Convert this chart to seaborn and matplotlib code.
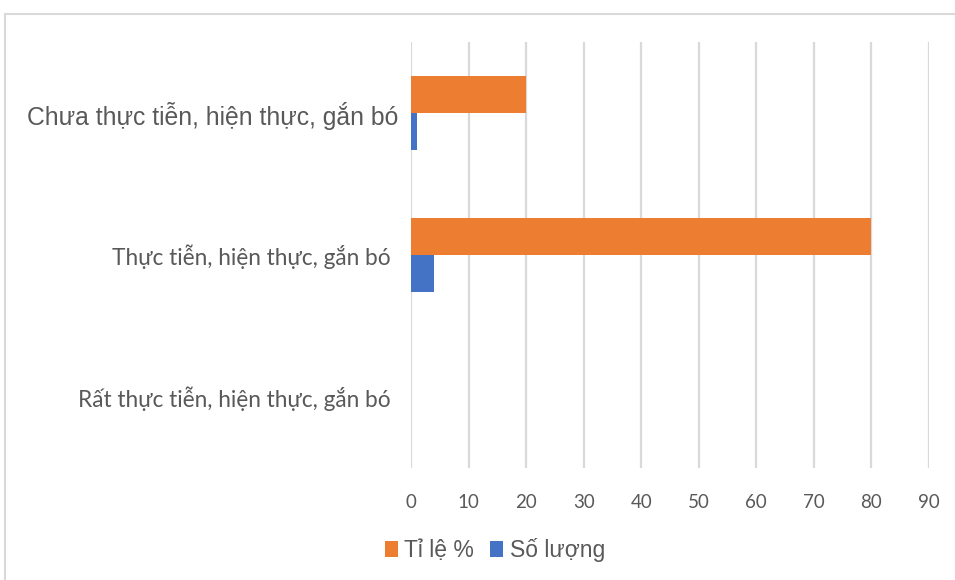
import matplotlib
matplotlib.use("Agg")
import matplotlib.pyplot as plt
from matplotlib.patches import Rectangle, Patch
import seaborn as sns
import pandas as pd

categories = [
    "Chưa thực tiễn, hiện thực, gắn bó",
    "Thực tiễn, hiện thực, gắn bó",
    "Rất thực tiễn, hiện thực, gắn bó",
]
ti_le = [20, 80, 0]
so_luong = [1, 4, 0]
series_names = ["Tỉ lệ %", "Số lượng"]
x_ticks = [0, 10, 20, 30, 40, 50, 60, 70, 80, 90]

colors = {"Tỉ lệ %": "#ED7D31", "Số lượng": "#4472C4"}
text_color = "#595959"
grid_color = "#D9D9D9"

df = pd.DataFrame({
    "category": categories * 2,
    "series": [series_names[0]] * 3 + [series_names[1]] * 3,
    "value": ti_le + so_luong,
})

sns.set_theme(style="white")
plt.rcParams["font.family"] = ["Liberation Sans", "DejaVu Sans"]

fig = plt.figure(figsize=(9.55, 5.8), dpi=100)
ax = fig.add_axes([411 / 955, 1 - 468 / 580, (929 - 411) / 955, (468 - 42) / 580])

sns.barplot(
    data=df, y="category", x="value", hue="series",
    order=categories, hue_order=series_names,
    palette=colors, orient="h", width=0.52, gap=0,
    ax=ax, legend=False, saturation=1, linewidth=0,
)

ax.set_xlim(0, 90)
ax.set_xticks(x_ticks)
ax.set_xticklabels([str(t) for t in x_ticks], family=["Lato", "DejaVu Sans"],
                   fontsize=13.5, color=text_color)
ax.grid(axis="x", color=grid_color, linewidth=1.6)
ax.set_axisbelow(True)
for s in ax.spines.values():
    s.set_visible(False)
ax.tick_params(axis="x", length=0, pad=19)
ax.tick_params(axis="y", length=0, pad=15)
ax.set_xlabel("")
ax.set_ylabel("")

for i, lbl in enumerate(ax.get_yticklabels()):
    lbl.set_color(text_color)
    if i == 0:
        lbl.set_fontfamily(["Liberation Sans", "DejaVu Sans"])
        lbl.set_fontsize(17.8)
    else:
        lbl.set_fontfamily(["Lato", "DejaVu Sans"])
        lbl.set_fontsize(16.3)
ax.yaxis.get_major_ticks()[0].set_pad(9)

handles = [Patch(facecolor=colors[n], edgecolor="none") for n in series_names]
fig.legend(handles, series_names, loc="center", bbox_to_anchor=(495 / 955, 1 - 550 / 580),
           ncol=2, frameon=False, fontsize=16.5, handlelength=0.55, handleheight=0.75,
           handletextpad=0.3, columnspacing=0.7, labelcolor=text_color)

fig.patches.append(Rectangle((5 / 955, -0.05), 1.0, 1 - 14 / 580 + 0.05,
                             transform=fig.transFigure, fill=False,
                             edgecolor=grid_color, linewidth=1.5))

fig.savefig("out.png", dpi=100)
